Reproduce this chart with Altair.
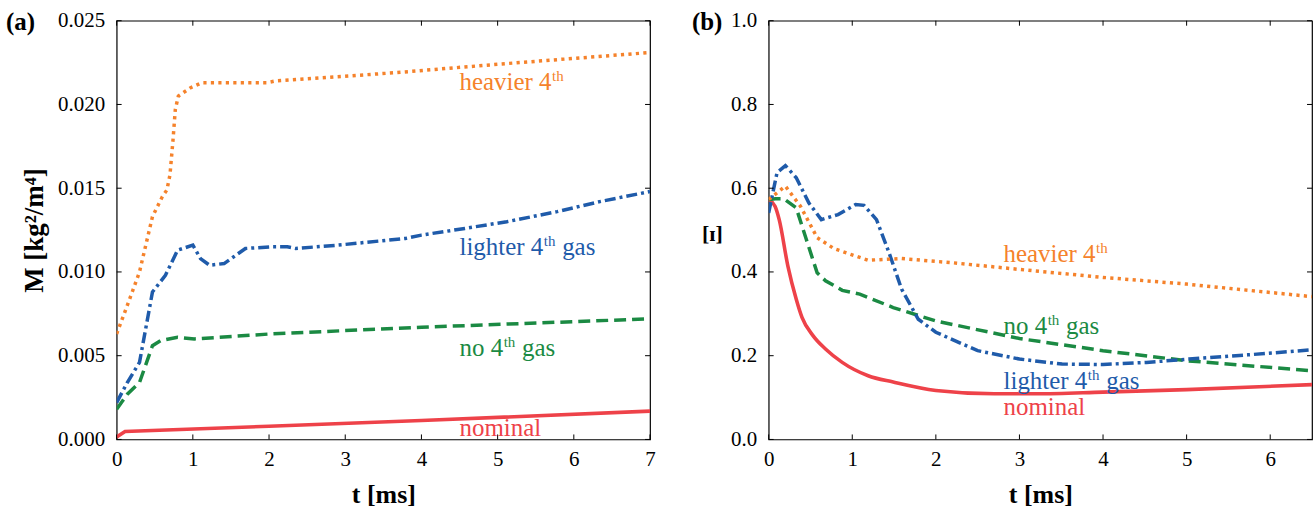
import altair as alt
import pandas as pd

FONT = "Liberation Serif"

# ---------------- panel (a): M [kg^2/m^4] versus t [ms] ----------------
A_NOM_T = [0, 0.11, 2.0, 4.0, 7.0]
A_NOM_V = [0.00014, 0.00048, 0.00079, 0.00113, 0.00169]

A_NO4_T = [0, 0.14, 0.30, 0.47, 0.58, 0.80, 1.02, 2.02, 4.0, 7.0]
A_NO4_V = [0.0018, 0.0027, 0.0034, 0.0056, 0.0059, 0.0061, 0.0060, 0.0063, 0.0067, 0.0072]

A_LIGHT_T = [0, 0.14, 0.30, 0.47, 0.64, 0.80, 1.0, 1.1, 1.22, 1.41, 1.69, 2.02, 2.24,
             2.35, 2.9, 3.79, 4.0, 4.57, 5.12, 5.78, 6.34, 7.0]
A_LIGHT_V = [0.0022, 0.0034, 0.0046, 0.0088, 0.0098, 0.0113, 0.0116, 0.0108, 0.0104,
             0.0105, 0.0114, 0.0115, 0.0115, 0.0114, 0.0116, 0.0120, 0.0122, 0.0126,
             0.0130, 0.0136, 0.0142, 0.0148]

A_HEAVY_T = [0, 0.14, 0.30, 0.47, 0.60, 0.66, 0.70, 0.74, 0.77, 0.81, 0.97, 1.12,
             1.97, 2.08, 3.67, 5.0, 7.0]
A_HEAVY_V = [0.0063, 0.0080, 0.0100, 0.0133, 0.0145, 0.0149, 0.0158, 0.0179, 0.0197,
             0.0205, 0.0210, 0.0213, 0.0213, 0.0214, 0.0219, 0.0224, 0.0231]

# ---------------- panel (b) ----------------
B_NOM_T = [0, 0.076, 0.126, 0.23, 0.33, 0.40, 0.53, 0.68, 0.88, 1.19, 1.49, 2.0,
           2.7, 3.2, 4.0, 5.0, 6.5]
B_NOM_V = [0.573, 0.557, 0.525, 0.414, 0.335, 0.291, 0.248, 0.216, 0.184, 0.152,
           0.137, 0.117, 0.109, 0.109, 0.113, 0.119, 0.131]

B_NO4_T = [0, 0.08, 0.18, 0.33, 0.45, 0.58, 0.68, 0.88, 1.09, 1.49, 2.0, 3.0, 4.0, 5.0, 6.5]
B_NO4_V = [0.573, 0.575, 0.575, 0.553, 0.478, 0.398, 0.379, 0.356, 0.347, 0.315,
           0.283, 0.241, 0.212, 0.188, 0.164]

B_LIGHT_T = [0, 0.10, 0.20, 0.33, 0.48, 0.63, 0.83, 1.04, 1.14, 1.29, 1.44, 1.59,
             1.79, 2.0, 2.5, 3.0, 3.51, 4.0, 4.52, 5.03, 5.73, 6.5]
B_LIGHT_V = [0.541, 0.637, 0.654, 0.625, 0.565, 0.525, 0.537, 0.561, 0.559, 0.525,
             0.446, 0.359, 0.287, 0.256, 0.212, 0.192, 0.180, 0.179, 0.184, 0.192,
             0.202, 0.214]

B_HEAVY_T = [0, 0.2, 0.38, 0.58, 0.78, 0.98, 1.19, 1.59, 2.2, 3.0, 4.0, 5.0, 6.5]
B_HEAVY_V = [0.573, 0.605, 0.557, 0.482, 0.456, 0.442, 0.428, 0.432, 0.422, 0.406,
             0.387, 0.371, 0.341]

# tick values
A_XTICKS = [0, 1, 2, 3, 4, 5, 6, 7]
A_YTICKS = [0.0, 0.005, 0.010, 0.015, 0.020, 0.025]
B_XTICKS = [0, 1, 2, 3, 4, 5, 6]
B_YTICKS = [0.0, 0.2, 0.4, 0.6, 0.8, 1.0]

# curve labels: (t, value, text, superscript, suffix, series)
A_LABELS = [
    (4.5, 0.02088, "heavier 4", "th", "", "heavy"),
    (4.5, 0.01101, "lighter 4", "th", "gas", "light"),
    (4.5, 0.00500, "no 4", "th", "gas", "no4"),
    (4.5, 0.00020, "nominal", "", "", "nom"),
]
B_LABELS = [
    (2.81, 0.4246, "heavier 4", "th", "", "heavy"),
    (2.81, 0.2516, "no 4", "th", "gas", "no4"),
    (2.81, 0.1206, "lighter 4", "th", "gas", "light"),
    (2.81, 0.0595, "nominal", "", "", "nom"),
]

COLOR = {"nom": "#EE4249", "no4": "#1B8A43", "light": "#1F5BAA", "heavy": "#F5822B"}
STYLE = {
    "nom": dict(strokeWidth=3.6),
    "no4": dict(strokeWidth=3.5, strokeDash=[12, 6]),
    "light": dict(strokeWidth=3.5, strokeDash=[11, 4, 3, 4]),
    "heavy": dict(strokeWidth=3.5, strokeDash=[3.2, 4.3]),
}

LABEL_SIZE = 25
SUP_SIZE = 15

# Times-style advance widths (fraction of em) for placing superscripts
_W = {" ": .25, "a": .444, "e": .444, "g": .5, "h": .5, "i": .278, "l": .278,
      "m": .778, "n": .5, "o": .5, "r": .333, "s": .389, "t": .278, "v": .5, "4": .5}


def text_width(s, size):
    return sum(_W.get(c, .5) for c in s) * size


def panel(series, xdom, ydom, xticks, yticks, xfmt, yfmt, W, H, yaxis_title,
          labels, tag, tag_dx):
    xs = alt.Scale(domain=xdom, nice=False, zero=False)
    ys = alt.Scale(domain=ydom, nice=False, zero=False)
    xaxis = alt.Axis(values=xticks, format=xfmt, ticks=False, domain=False, grid=False,
                     labelFlush=False, title="t [ms]", labelPadding=9,
                     titleBaseline="alphabetic", titleY=63)
    yaxis = alt.Axis(values=yticks, format=yfmt, ticks=False, domain=False, grid=False,
                     labelFlush=False, labelPadding=12, **yaxis_title)
    X = lambda: alt.X("t:Q", scale=xs, axis=xaxis)
    Y = lambda: alt.Y("v:Q", scale=ys, axis=yaxis)

    layers = []
    for key, ts, vs, interp in series:
        df = pd.DataFrame({"t": ts, "v": vs})
        layers.append(
            alt.Chart(df).mark_line(color=COLOR[key], clip=True, interpolate=interp,
                                    strokeCap="butt", **STYLE[key])
            .encode(x=X(), y=Y())
        )

    # inward ticks on all four sides
    tick_len = 5
    xt = pd.DataFrame({"t": xticks})
    yt = pd.DataFrame({"v": yticks})
    tick_style = dict(color="black", strokeWidth=1)
    layers += [
        alt.Chart(xt).mark_rule(**tick_style).encode(x=X(), y=alt.value(H), y2=alt.value(H - tick_len)),
        alt.Chart(xt).mark_rule(**tick_style).encode(x=X(), y=alt.value(0), y2=alt.value(tick_len)),
        alt.Chart(yt).mark_rule(**tick_style).encode(y=Y(), x=alt.value(0), x2=alt.value(tick_len)),
        alt.Chart(yt).mark_rule(**tick_style).encode(y=Y(), x=alt.value(W), x2=alt.value(W - tick_len)),
    ]

    # curve labels with superscripts
    for t, v, base, sup, suffix, key in labels:
        df = pd.DataFrame({"t": [t], "v": [v]})
        common = dict(align="left", baseline="alphabetic", font=FONT, color=COLOR[key])
        layers.append(alt.Chart(df).mark_text(fontSize=LABEL_SIZE, **common)
                      .encode(x=X(), y=Y(), text=alt.value(base)))
        wb = text_width(base, LABEL_SIZE)
        if sup:
            layers.append(alt.Chart(df).mark_text(fontSize=SUP_SIZE, dx=wb + 0.5, dy=-9, **common)
                          .encode(x=X(), y=Y(), text=alt.value(sup)))
        if suffix:
            ws = text_width(sup, SUP_SIZE) + text_width(" ", LABEL_SIZE) + 1
            layers.append(alt.Chart(df).mark_text(fontSize=LABEL_SIZE, dx=wb + ws, **common)
                          .encode(x=X(), y=Y(), text=alt.value(suffix)))

    # panel tag
    layers.append(
        alt.Chart(pd.DataFrame({"s": [tag]})).mark_text(
            align="left", baseline="middle", font=FONT, fontSize=25, fontWeight="bold",
            color="black"
        ).encode(x=alt.value(tag_dx), y=alt.value(1), text="s:N")
    )
    return alt.layer(*layers).properties(width=W, height=H)


panel_a = panel(
    [("nom", A_NOM_T, A_NOM_V, "linear"),
     ("no4", A_NO4_T, A_NO4_V, "linear"),
     ("light", A_LIGHT_T, A_LIGHT_V, "linear"),
     ("heavy", A_HEAVY_T, A_HEAVY_V, "linear")],
    [0, 7], [0, 0.025], A_XTICKS, A_YTICKS, "d", ".3f", 535, 420,
    dict(title="M [kg²/m⁴]", titleAngle=-90, titleX=-82, titleY=210,
         titleAlign="center", titleBaseline="middle", titleFontSize=27),
    A_LABELS, "(a)", -111,
)

panel_b = panel(
    [("nom", B_NOM_T, B_NOM_V, "monotone"),
     ("no4", B_NO4_T, B_NO4_V, "linear"),
     ("light", B_LIGHT_T, B_LIGHT_V, "linear"),
     ("heavy", B_HEAVY_T, B_HEAVY_V, "linear")],
    [0, 6.5], [0, 1.0], B_XTICKS, B_YTICKS, "d", ".1f", 545, 420,
    dict(title="[ɪ]", titleAngle=0, titleX=-57, titleY=213,
         titleAlign="center", titleBaseline="middle", titleFontSize=22),
    B_LABELS, "(b)", -77,
)

chart = (
    alt.hconcat(panel_a, panel_b, spacing=35)
    .properties(padding={"left": 5, "right": 2, "top": 8, "bottom": 2}, background="white")
    .configure_view(stroke="black", strokeWidth=1.2)
    .configure_axis(
        labelFont=FONT, labelFontSize=21, labelColor="black",
        titleFont=FONT, titleFontSize=26, titleFontWeight="bold", titleColor="black",
    )
)

chart.save("out.html", embed_options={"renderer": "svg", "actions": False})
